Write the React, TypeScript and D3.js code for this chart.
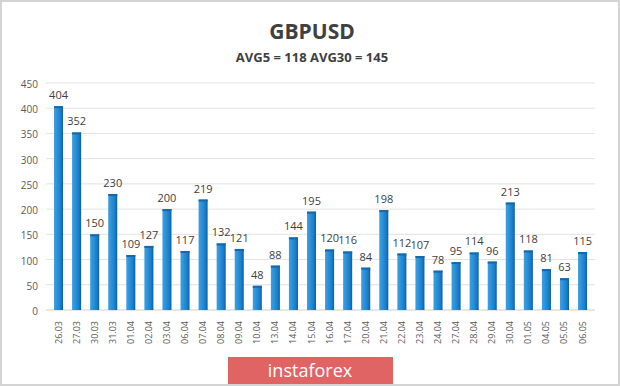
import { useEffect, useRef } from 'react';
import * as d3 from 'd3';

const dates = [
  '26.03', '27.03', '30.03', '31.03', '01.04', '02.04', '03.04', '06.04', '07.04', '08.04',
  '09.04', '10.04', '13.04', '14.04', '15.04', '16.04', '17.04', '20.04', '21.04', '22.04',
  '23.04', '24.04', '27.04', '28.04', '29.04', '30.04', '01.05', '04.05', '05.05', '06.05',
];
const ranges = [
  404, 352, 150, 230, 109, 127, 200, 117, 219, 132,
  121, 48, 88, 144, 195, 120, 116, 84, 198, 112,
  107, 78, 95, 114, 96, 213, 118, 81, 63, 115,
];
const yTicks = [0, 50, 100, 150, 200, 250, 300, 350, 400, 450];
const title = 'GBPUSD';
const subtitle = 'AVG5 = 118 AVG30 = 145';

export default function App() {
  const ref = useRef<SVGSVGElement | null>(null);

  useEffect(() => {
    document.body.style.margin = '0';
    if (!ref.current) return;

    const width = 620;
    const height = 386;
    const svg = d3.select(ref.current);
    svg.selectAll('*').remove();

    const font = "'Open Sans', 'DejaVu Sans', sans-serif";

    // frame
    svg.append('rect').attr('width', width).attr('height', height).attr('fill', '#fff');
    svg
      .append('rect')
      .attr('x', 1)
      .attr('y', 1)
      .attr('width', width - 2)
      .attr('height', height - 2)
      .attr('fill', 'none')
      .attr('stroke', '#d4d4d4')
      .attr('stroke-width', 2);

    const defs = svg.append('defs');
    const grad = defs.append('linearGradient').attr('id', 'barGrad').attr('x1', 0).attr('x2', 1).attr('y1', 0).attr('y2', 0);
    grad.append('stop').attr('offset', '0%').attr('stop-color', '#3f9fe0');
    grad.append('stop').attr('offset', '35%').attr('stop-color', '#2a92dc');
    grad.append('stop').attr('offset', '75%').attr('stop-color', '#1a7cc6');
    grad.append('stop').attr('offset', '100%').attr('stop-color', '#0f5d9c');

    const x = d3.scaleBand<string>().domain(dates).range([49.5, 591.6]).paddingInner(0.5).paddingOuter(0.25);
    const y = d3.scaleLinear().domain([0, 450]).range([310, 83]);

    // title
    svg
      .append('text')
      .attr('x', 312)
      .attr('y', 39)
      .attr('text-anchor', 'middle')
      .attr('font-family', font)
      .attr('font-weight', 700)
      .attr('font-size', 21)
      .attr('fill', '#404040')
      .text(title);
    svg
      .append('text')
      .attr('x', 312)
      .attr('y', 62)
      .attr('text-anchor', 'middle')
      .attr('font-family', font)
      .attr('font-weight', 700)
      .attr('font-size', 13)
      .attr('fill', '#404040')
      .text(subtitle);

    // grid + y labels
    const grid = svg.append('g');
    grid
      .selectAll('line')
      .data(yTicks)
      .join('line')
      .attr('x1', 46)
      .attr('x2', 595)
      .attr('y1', (d) => y(d))
      .attr('y2', (d) => y(d))
      .attr('stroke', (d) => (d === 0 ? '#cfcfcf' : '#e2e2e2'))
      .attr('stroke-width', 1);
    grid
      .selectAll('text')
      .data(yTicks)
      .join('text')
      .attr('x', 38)
      .attr('y', (d) => y(d) + 5)
      .attr('text-anchor', 'end')
      .attr('font-family', font)
      .attr('font-size', 10)
      .attr('fill', '#595959')
      .text((d) => d);

    // bars
    const bars = svg.append('g');
    bars
      .selectAll('rect.bar')
      .data(ranges)
      .join('rect')
      .attr('class', 'bar')
      .attr('x', (_, i) => x(dates[i])!)
      .attr('y', (d) => y(d))
      .attr('width', x.bandwidth())
      .attr('height', (d) => y(0) - y(d))
      .attr('fill', 'url(#barGrad)');
    bars
      .selectAll('rect.cap')
      .data(ranges)
      .join('rect')
      .attr('class', 'cap')
      .attr('x', (_, i) => x(dates[i])!)
      .attr('y', (d) => y(d))
      .attr('width', x.bandwidth())
      .attr('height', 2)
      .attr('fill', '#1668ad');

    // value labels
    svg
      .append('g')
      .selectAll('text')
      .data(ranges)
      .join('text')
      .attr('x', (_, i) => x(dates[i])! + x.bandwidth() / 2)
      .attr('y', (d) => y(d) - 7)
      .attr('text-anchor', 'middle')
      .attr('font-family', font)
      .attr('font-size', 11)
      .attr('fill', '#404040')
      .text((d) => d);

    // x labels
    svg
      .append('g')
      .selectAll('text')
      .data(dates)
      .join('text')
      .attr('transform', (d) => `translate(${x(d)! + x.bandwidth() / 2 + 3}, 321) rotate(-90)`)
      .attr('text-anchor', 'end')
      .attr('font-family', font)
      .attr('font-size', 9)
      .attr('fill', '#595959')
      .text((d) => d);

    // badge
    svg
      .append('rect')
      .attr('x', 228)
      .attr('y', 357)
      .attr('width', 165)
      .attr('height', 27)
      .attr('fill', '#e06464');
    svg
      .append('text')
      .attr('x', 310)
      .attr('y', 377)
      .attr('text-anchor', 'middle')
      .attr('font-family', font)
      .attr('font-size', 18)
      .attr('fill', '#fff')
      .text('instaforex');
  }, []);

  return <svg ref={ref} width={620} height={386} style={{ display: 'block' }} />;
}
